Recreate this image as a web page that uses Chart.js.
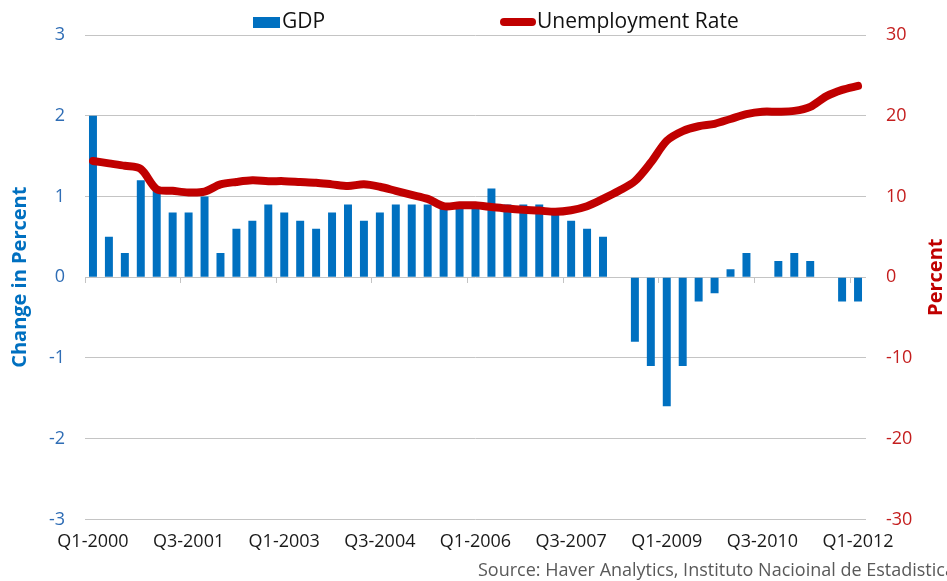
<!DOCTYPE html>
<html>
<head>
<meta charset="utf-8">
<script src="https://cdn.jsdelivr.net/npm/chart.js@4.4.0/dist/chart.umd.min.js"></script>
<style>
  html, body { margin: 0; padding: 0; background: #ffffff; }
  canvas { display: block; }
</style>
</head>
<body>
<canvas id="chart" width="947" height="581"></canvas>
<script>
// Quarterly categories, Q1-2000 .. Q1-2012
const quarters = [
    'Q1-2000', 'Q2-2000', 'Q3-2000', 'Q4-2000',
    'Q1-2001', 'Q2-2001', 'Q3-2001', 'Q4-2001',
    'Q1-2002', 'Q2-2002', 'Q3-2002', 'Q4-2002',
    'Q1-2003', 'Q2-2003', 'Q3-2003', 'Q4-2003',
    'Q1-2004', 'Q2-2004', 'Q3-2004', 'Q4-2004',
    'Q1-2005', 'Q2-2005', 'Q3-2005', 'Q4-2005',
    'Q1-2006', 'Q2-2006', 'Q3-2006', 'Q4-2006',
    'Q1-2007', 'Q2-2007', 'Q3-2007', 'Q4-2007',
    'Q1-2008', 'Q2-2008', 'Q3-2008', 'Q4-2008',
    'Q1-2009', 'Q2-2009', 'Q3-2009', 'Q4-2009',
    'Q1-2010', 'Q2-2010', 'Q3-2010', 'Q4-2010',
    'Q1-2011', 'Q2-2011', 'Q3-2011', 'Q4-2011',
    'Q1-2012'
];

// GDP, change in percent (left axis)
const gdpChange = [
    2.0, 0.5, 0.3, 1.2, 1.1, 0.8, 0.8, 1.0, 0.3, 0.6,
    0.7, 0.9, 0.8, 0.7, 0.6, 0.8, 0.9, 0.7, 0.8, 0.9,
    0.9, 0.9, 0.9, 0.9, 0.9, 1.1, 0.9, 0.9, 0.9, 0.8,
    0.7, 0.6, 0.5, 0.0, -0.8, -1.1, -1.6, -1.1, -0.3, -0.2,
    0.1, 0.3, 0.0, 0.2, 0.3, 0.2, 0.0, -0.3, -0.3
];

// Unemployment rate, percent (right axis)
const unemploymentRate = [
    14.4, 14.1, 13.8, 13.4, 10.9, 10.7, 10.5, 10.6, 11.5, 11.8,
    12.0, 11.9, 11.9, 11.8, 11.7, 11.5, 11.3, 11.5, 11.2, 10.7,
    10.2, 9.7, 8.8, 8.9, 8.9, 8.7, 8.5, 8.35, 8.25, 8.1,
    8.3, 8.8, 9.7, 10.7, 11.9, 14.2, 16.9, 18.1, 18.7, 19.0,
    19.6, 20.2, 20.5, 20.5, 20.6, 21.1, 22.4, 23.2, 23.7
];

const leftTicks = { min: -3, max: 3, step: 1 };
const rightTicks = { min: -30, max: 30, step: 10 };

const barBlue = '#0070C0';
const lineRed = '#C00000';
const leftTickColor = '#2F6DB5';
const rightTickColor = '#C41E1E';
const gridGray = '#C4C4C4';
const sourceText = 'Source: Haver Analytics, Instituto Nacioinal de Estadistica';

Chart.defaults.font.family = '"Open Sans", sans-serif';

// Legend, right-hand axis title and source note
const extrasPlugin = {
    id: 'extras',
    afterDraw(chart) {
        const ctx = chart.ctx;
        const area = chart.chartArea;
        const sets = chart.data.datasets;
        const gdpSet = sets.find(d => d.type === 'bar');
        const rateSet = sets.find(d => d.type === 'line');

        ctx.save();
        ctx.font = '21px "Open Sans"';
        ctx.textBaseline = 'middle';
        ctx.textAlign = 'left';

        ctx.fillStyle = gdpSet.backgroundColor;
        ctx.fillRect(253, 17, 27, 11);
        ctx.fillStyle = '#111111';
        ctx.fillText(gdpSet.label, 282, 22);

        ctx.strokeStyle = rateSet.borderColor;
        ctx.lineWidth = 8;
        ctx.lineCap = 'round';
        ctx.beginPath();
        ctx.moveTo(504, 22);
        ctx.lineTo(532, 22);
        ctx.stroke();
        ctx.fillText(rateSet.label, 537, 22);

        // source note runs off the right edge like the original
        ctx.font = '18px "Open Sans"';
        ctx.fillStyle = '#595959';
        ctx.textBaseline = 'alphabetic';
        ctx.fillText(sourceText, 478, 576);

        ctx.translate(936, (area.top + area.bottom) / 2);
        ctx.rotate(-Math.PI / 2);
        ctx.font = 'bold 20px "Open Sans"';
        ctx.fillStyle = lineRed;
        ctx.textAlign = 'center';
        ctx.textBaseline = 'middle';
        ctx.fillText('Percent', 0, 0);
        ctx.restore();
    }
};

const chart = new Chart(document.getElementById('chart'), {
    type: 'bar',
    data: {
        labels: quarters,
        datasets: [
            {
                type: 'line',
                label: 'Unemployment Rate',
                data: unemploymentRate,
                yAxisID: 'y1',
                borderColor: lineRed,
                backgroundColor: lineRed,
                borderWidth: 8,
                borderCapStyle: 'round',
                borderJoinStyle: 'round',
                pointRadius: 0,
                tension: 0.3,
                order: 0
            },
            {
                type: 'bar',
                label: 'GDP',
                data: gdpChange,
                yAxisID: 'y',
                backgroundColor: barBlue,
                categoryPercentage: 1.0,
                barPercentage: 0.5,
                order: 1
            }
        ]
    },
    options: {
        responsive: false,
        animation: false,
        layout: { padding: { top: 35, bottom: 16, left: 0, right: 0 } },
        plugins: {
            legend: { display: false },
            tooltip: { enabled: false }
        },
        scales: {
            x: {
                type: 'category',
                position: 'bottom',
                offset: true,
                grid: { display: false, drawTicks: false },
                border: { display: false },
                ticks: {
                    autoSkip: false,
                    maxRotation: 0,
                    padding: 12,
                    color: '#1A1A1A',
                    font: { size: 18 },
                    callback: (value, index) => (index % 6 === 0 ? quarters[index] : '')
                }
            },
            // tick marks along the zero line
            x0: {
                type: 'category',
                position: { y: 0 },
                offset: true,
                grid: {
                    offset: true,
                    drawOnChartArea: false,
                    tickLength: 6,
                    color: ctx => (ctx.index % 6 === 0 ? gridGray : 'rgba(0,0,0,0)')
                },
                border: { display: false },
                ticks: { display: false }
            },
            y: {
                position: 'left',
                min: leftTicks.min,
                max: leftTicks.max,
                ticks: {
                    stepSize: leftTicks.step,
                    color: leftTickColor,
                    font: { size: 18 },
                    padding: 20
                },
                grid: { color: gridGray, drawTicks: false },
                border: { display: false },
                title: {
                    display: true,
                    text: 'Change in Percent',
                    color: barBlue,
                    font: { size: 20, weight: 'bold' },
                    padding: { top: 8, bottom: 0 }
                },
                afterFit: scale => { scale.width = 85; }
            },
            y1: {
                position: 'right',
                min: rightTicks.min,
                max: rightTicks.max,
                ticks: {
                    stepSize: rightTicks.step,
                    color: rightTickColor,
                    font: { size: 18 },
                    padding: 20
                },
                grid: { drawOnChartArea: false, drawTicks: false },
                border: { display: false },
                afterFit: scale => { scale.width = 81; }
            }
        }
    },
    plugins: [extrasPlugin]
});
</script>
</body>
</html>
